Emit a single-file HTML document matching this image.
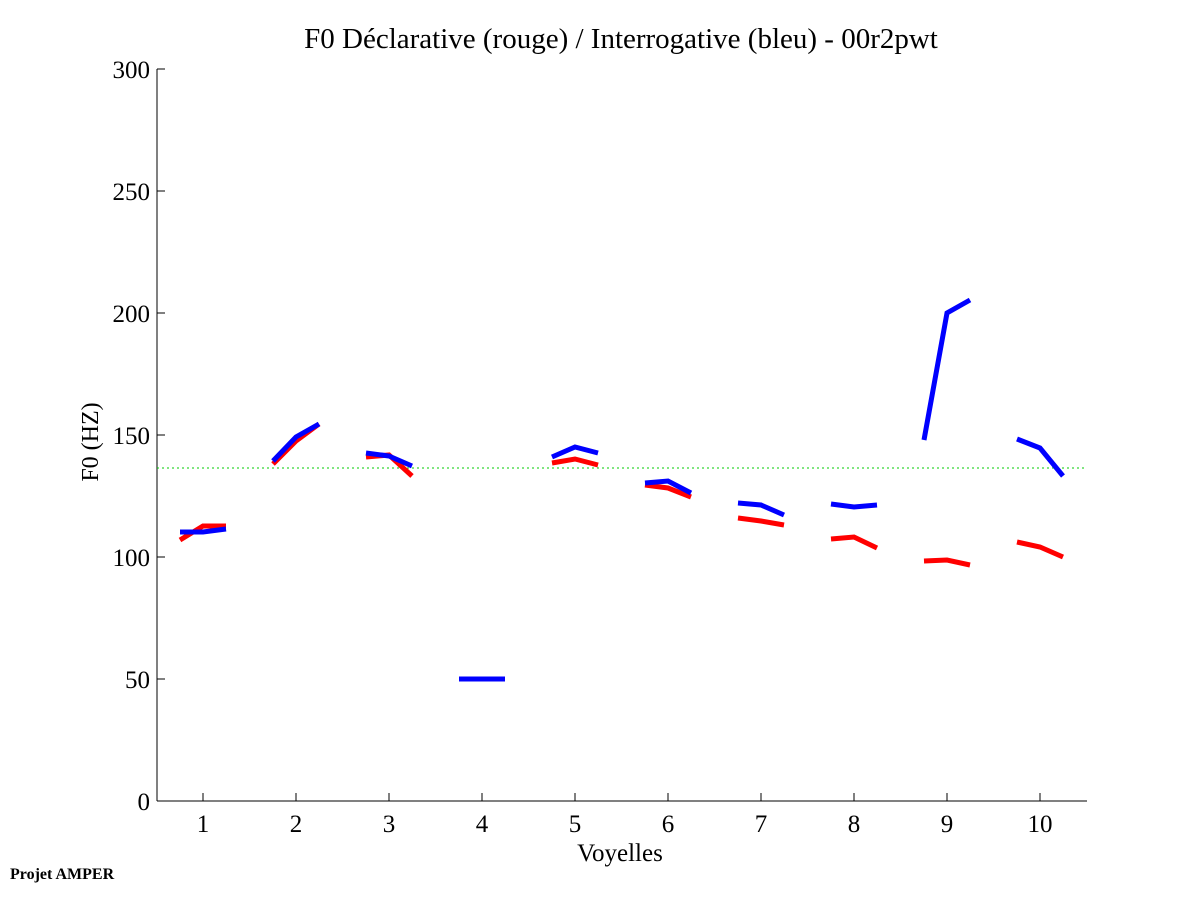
<!DOCTYPE html>
<html><head><meta charset="utf-8"><style>body{margin:0;background:#fff}svg{display:block}text{font-family:"Liberation Serif",serif;fill:#000}</style></head><body>
<svg width="1201" height="901" viewBox="0 0 1201 901">
<rect width="1201" height="901" fill="#fff"/>
<text x="621" y="48" font-size="29" text-anchor="middle">F0 Déclarative (rouge) / Interrogative (bleu) - 00r2pwt</text>
<g stroke="#000" stroke-width="1" fill="none">
<line x1="157" y1="69" x2="157" y2="801"/><line x1="157" y1="801" x2="1087" y2="801"/>
<path d="M157 69h8M157 191h8M157 313h8M157 435h8M157 557h8M157 679h8M157 801h8"/>
<path d="M203 801v-8M296 801v-8M389 801v-8M482 801v-8M575 801v-8M668 801v-8M761 801v-8M854 801v-8M947 801v-8M1040 801v-8"/>
</g>
<g font-size="25" text-anchor="end">
<text x="150" y="78">300</text><text x="150" y="200">250</text><text x="150" y="322">200</text><text x="150" y="444">150</text><text x="150" y="566">100</text><text x="150" y="688">50</text><text x="150" y="810">0</text>
</g>
<g font-size="25" text-anchor="middle">
<text x="203" y="832">1</text><text x="296" y="832">2</text><text x="389" y="832">3</text><text x="482" y="832">4</text><text x="575" y="832">5</text><text x="668" y="832">6</text><text x="761" y="832">7</text><text x="854" y="832">8</text><text x="947" y="832">9</text><text x="1040" y="832">10</text>
<text x="620" y="861">Voyelles</text>
</g>
<text x="98" y="442" font-size="24" text-anchor="middle" transform="rotate(-90 98 442)">F0 (HZ)</text>
<text x="10" y="879" font-size="16" font-weight="bold">Projet AMPER</text>
<line x1="157" y1="468" x2="1087" y2="468" stroke="#00cc00" stroke-width="1" stroke-dasharray="2,3"/>
<g stroke="#f00" stroke-width="5" fill="none">
<polyline points="180,540 203,526 226,526"/><polyline points="273,464 296,441 319,424"/><polyline points="366,457 389,455 412,476"/><polyline points="552,463 575,459 598,465"/><polyline points="645,485 668,488 691,497"/><polyline points="738,518 761,521 784,525"/><polyline points="831,539 854,537 877,548"/><polyline points="924,561 947,560 970,565"/><polyline points="1017,542 1040,547 1063,557"/>
</g>
<g stroke="#00f" stroke-width="5" fill="none">
<polyline points="180,532 203,532 226,529"/><polyline points="273,461 296,437 319,424"/><polyline points="366,453 389,456 412,466"/><polyline points="459,679 482,679 505,679"/><polyline points="552,457 575,447 598,453"/><polyline points="645,483 668,481 691,493"/><polyline points="738,503 761,505 784,515"/><polyline points="831,504 854,507 877,505"/><polyline points="924,440 947,313 970,300"/><polyline points="1017,439 1040,448 1063,476"/>
</g>
</svg>
</body></html>
